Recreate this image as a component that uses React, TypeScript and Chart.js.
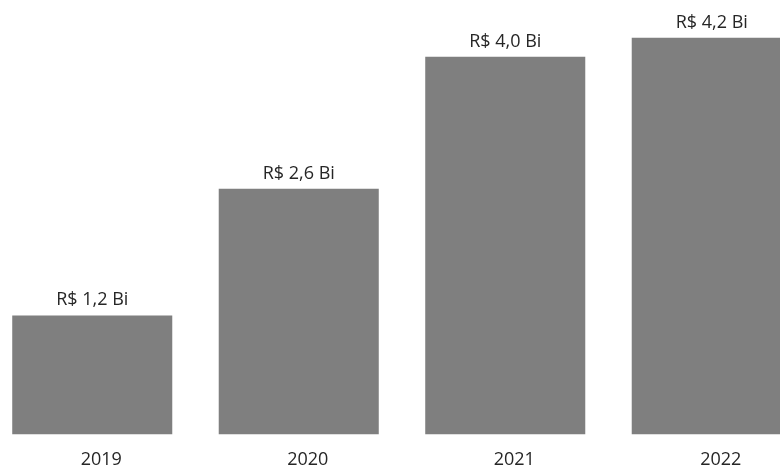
import React, { useEffect, useRef } from "react";
import { Chart, registerables } from "chart.js";

Chart.register(...registerables);

const categories = ["2019", "2020", "2021", "2022"];
const values = [1.26, 2.6, 4.0, 4.2];
const valueLabels = ["R$ 1,2 Bi", "R$ 2,6 Bi", "R$ 4,0 Bi", "R$ 4,2 Bi"];

const FONT = "'Open Sans', sans-serif";
const TEXT_COLOR = "#262626";
const BAR_COLOR = "#7f7f7f";

const valueLabelPlugin = {
  id: "valueLabels",
  afterDatasetsDraw(chart: any) {
    const ctx = chart.ctx;
    const meta = chart.getDatasetMeta(0);
    ctx.save();
    ctx.font = `18px ${FONT}`;
    ctx.fillStyle = TEXT_COLOR;
    ctx.textAlign = "center";
    ctx.textBaseline = "alphabetic";
    meta.data.forEach((bar: any, i: number) => {
      ctx.fillText(valueLabels[i], bar.x, bar.y - 10);
    });
    ctx.restore();
  },
};

export default function App() {
  const ref = useRef<HTMLCanvasElement | null>(null);

  useEffect(() => {
    document.body.style.margin = "0";
    const canvas = ref.current!;
    const chart = new Chart(canvas, {
      type: "bar",
      data: {
        labels: categories,
        datasets: [
          {
            data: values,
            backgroundColor: BAR_COLOR,
            borderWidth: 0,
            categoryPercentage: 1,
            barPercentage: 0.775,
          },
        ],
      },
      options: {
        responsive: false,
        animation: false,
        layout: { padding: 0 },
        plugins: {
          legend: { display: false },
          tooltip: { enabled: false },
        },
        scales: {
          y: { display: false, min: 0, max: 4.6 },
          x: {
            grid: { display: false, drawTicks: false },
            border: { display: false },
            ticks: {
              color: TEXT_COLOR,
              font: { family: FONT, size: 18 },
              padding: 15,
              labelOffset: 9,
            },
          },
        },
      },
      plugins: [valueLabelPlugin],
    });
    return () => chart.destroy();
  }, []);

  return (
    <div
      style={{
        position: "absolute",
        left: 0,
        top: 0,
        width: 780,
        height: 466,
        overflow: "hidden",
        background: "#fff",
      }}
    >
      <canvas
        ref={ref}
        width={826}
        height={486}
        style={{ position: "absolute", left: -11, top: 0, width: 826, height: 486 }}
      />
    </div>
  );
}
